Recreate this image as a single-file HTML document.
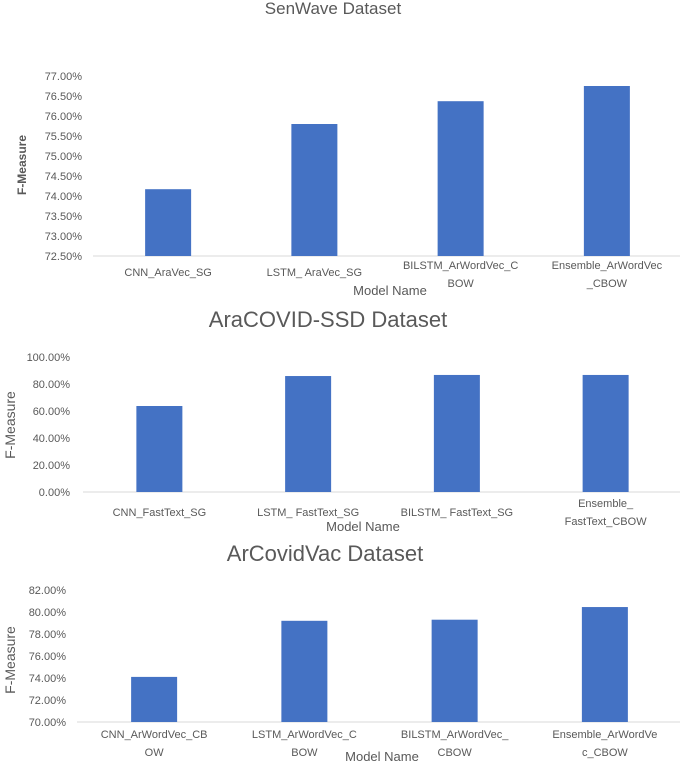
<!DOCTYPE html>
<html><head><meta charset="utf-8"><style>
html,body{margin:0;padding:0;background:#fff;width:685px;height:762px;overflow:hidden}
svg{display:block;font-family:"Liberation Sans",sans-serif}
</style></head><body>
<svg id="c" width="685" height="762"></svg>
<script>
const senCategories=[["CNN_AraVec_SG"],["LSTM_ AraVec_SG"],["BILSTM_ArWordVec_C","BOW"],["Ensemble_ArWordVec","_CBOW"]];
const senValues=[74.17,75.8,76.37,76.75];
const senTicks=[72.5,73,73.5,74,74.5,75,75.5,76,76.5,77];
const araCategories=[["CNN_FastText_SG"],["LSTM_ FastText_SG"],["BILSTM_ FastText_SG"],["Ensemble_","FastText_CBOW"]];
const araValues=[63.7,85.9,86.7,86.7];
const araTicks=[0,20,40,60,80,100];
const vacCategories=[["CNN_ArWordVec_CB","OW"],["LSTM_ArWordVec_C","BOW"],["BILSTM_ArWordVec_","CBOW"],["Ensemble_ArWordVe","c_CBOW"]];
const vacValues=[74.1,79.2,79.3,80.45];
const vacTicks=[70,72,74,76,78,80,82];

const svg=document.getElementById('c');
const NS='http://www.w3.org/2000/svg';
function mk(tag,attrs,txt){const e=document.createElementNS(NS,tag);for(const k in attrs)e.setAttribute(k,attrs[k]);if(txt!==undefined)e.textContent=txt;svg.appendChild(e);return e;}

function chart(o){
  const y=v=>o.base-(v-o.min)/(o.max-o.min)*(o.base-o.top);
  const step=(680-o.x0)/o.cats.length;
  const t=mk('text',{x:o.titleX,y:o.titleY,'text-anchor':'middle','font-size':o.titleSize,fill:'#595959'},o.title);
  
  
  o.ticks.forEach(v=>{
    const e=mk('text',{x:o.labelX,y:y(v)+4,'text-anchor':'end','font-size':11,fill:'#595959'},v.toFixed(2)+'%');
    
    
  });
  const ax=mk('line',{x1:o.x0-2,x2:680,y1:o.base,y2:o.base,stroke:'#d9d9d9','stroke-width':1});
  
  
  o.vals.forEach((v,i)=>{
    const cx=o.x0+step*(i+0.5);
    const r=mk('rect',{x:cx-23,y:y(v),width:46,height:o.base-y(v),fill:'#4472C4'});
    
    
    const lines=o.cats[i];
    lines.forEach((s,j)=>{
      const ly=lines.length===1?o.catY:o.catY2+j*18;
      const e=mk('text',{x:cx,y:ly,'text-anchor':'middle','font-size':11,fill:'#595959'},s);
      
      
    });
  });
  const xt=mk('text',{x:o.xtX,y:o.xtY,'text-anchor':'middle','font-size':13,fill:'#595959'},'Model Name');
  
  
  const yt=mk('text',{x:0,y:0,transform:`translate(${o.ytX},${o.ytY}) rotate(-90)`,'text-anchor':'middle','font-size':o.ytSize,'font-weight':o.ytBold?'bold':'normal',fill:'#595959'},'F-Measure');
  
  
}
chart({id:'senwave',title:'SenWave Dataset',titleX:333,titleY:14,titleSize:17,cats:senCategories,vals:senValues,ticks:senTicks,min:72.5,max:77,base:256,top:76,x0:95,labelX:82,catY:276,catY2:269,xtX:390,xtY:295,ytX:26,ytY:165,ytSize:12,ytBold:true});
chart({id:'aracovid',title:'AraCOVID-SSD Dataset',titleX:328,titleY:327,titleSize:22,cats:araCategories,vals:araValues,ticks:araTicks,min:0,max:100,base:492,top:357,x0:85,labelX:70,catY:516,catY2:507,xtX:363,xtY:531,ytX:15,ytY:425,ytSize:14,ytBold:false});
chart({id:'arcovidvac',title:'ArCovidVac Dataset',titleX:325,titleY:561,titleSize:22,cats:vacCategories,vals:vacValues,ticks:vacTicks,min:70,max:82,base:722,top:590,x0:79,labelX:66,catY:738,catY2:738,xtX:382,xtY:761,ytX:15,ytY:660,ytSize:14,ytBold:false});
</script>
</body></html>
